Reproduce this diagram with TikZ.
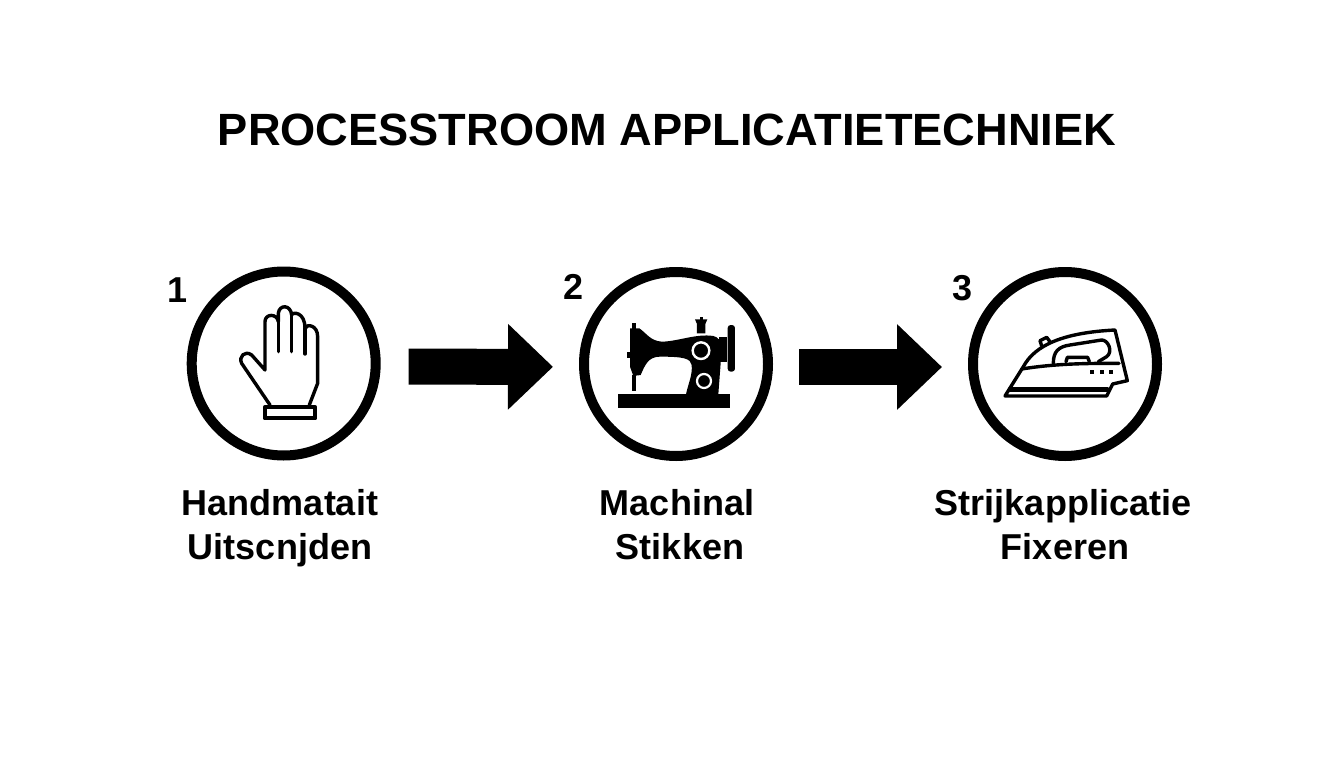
\documentclass[tikz,border=0pt]{standalone}
\usepackage{fontspec}
\setmainfont{Liberation Sans}
\usetikzlibrary{arrows.meta}
\tikzset{
  ring/.style={circle,draw=black,line width=10pt,minimum size=184pt,inner sep=0pt,fill=white},
  titletext/.style={font=\fontsize{45.2}{50}\selectfont\bfseries,inner sep=0pt},
  labeltext/.style={font=\fontsize{36}{44}\selectfont\bfseries,align=center,inner sep=0pt},
  numtext/.style={font=\fontsize{36}{38}\selectfont\bfseries,inner sep=0pt},
  flow/.style={line width=36pt,-{Triangle[length=45pt,width=83pt]},draw=black},
  icon/.style={line width=3.4pt,line join=round,line cap=round,draw=black},
  solidicon/.style={fill=black,draw=none},
}
\begin{document}
\begin{tikzpicture}[x=1pt,y=-1pt]
\useasboundingbox (0,0) rectangle (1344,768);
\fill[white] (0,0) rectangle (1344,768);
\node[titletext] (title) at (667,130) {PROCESSTROOM APPLICATIETECHNIEK};
\node[ring] (c1) at (283.7,363.5) {};
\node[ring] (c2) at (676,364) {};
\node[ring] (c3) at (1065,364) {};
\draw[flow,shorten <=28pt,shorten >=26pt,transform canvas={yshift=-3pt}] (c1) -- (c2);
\draw[flow,shorten <=26pt,shorten >=26pt,transform canvas={yshift=-3pt}] (c2) -- (c3);
\node[numtext] (n1) at (178,290) {1};
\node[numtext] (n2) at (574,287) {2};
\node[numtext] (n3) at (962,288) {3};
\node[labeltext] (l1) at (280,528) {Handmatait\\Uitscnjden};
\node[labeltext] (l2) at (677,525) {Machinal\\\hspace*{6pt}Stikken};
\node[labeltext] (l3) at (1063,525) {Strijkapplicatie\\\hspace*{4pt}Fixeren};
% hand
\begin{scope}[shift={(170,260)},x=0.3333pt,y=-0.3333pt]
\draw[icon] (300,435) -- (215,310) .. controls (205,290) and (225,270) .. (245,285) -- (285,330) -- (285,185) .. controls (285,160) and (322,160) .. (325,185) -- (325,160) .. controls (328,133) and (362,133) .. (365,165) .. controls (368,155) and (405,155) .. (405,205) .. controls (410,190) and (443,195) .. (443,230) -- (443,370) -- (418,435);
\draw[icon] (325,185) -- (325,275) (365,165) -- (365,275) (405,205) -- (405,282);
\draw[icon,line width=4pt] (284,442) rectangle (436,475);
\end{scope}
% sewing machine
\begin{scope}[shift={(600,300)},x=0.3333pt,y=-0.3333pt]
\fill[solidicon] (53,283) rectangle (390,323);
\fill[solidicon] (90,85) -- (118,85) .. controls (140,100) and (150,122) .. (185,125) .. controls (230,125) and (290,100) .. (340,108) .. controls (355,112) and (362,120) .. (362,140) -- (362,190) -- (355,283) -- (258,283) .. controls (265,250) and (278,225) .. (275,195) .. controls (272,175) and (250,170) .. (180,170) .. controls (145,170) and (135,195) .. (122,225) -- (100,228) -- (90,200) -- cycle;
\fill[solidicon] (97,225) rectangle (107,272);
\fill[solidicon] (97,68) rectangle (107,90);
\fill[solidicon] (80,155) rectangle (94,175);
\fill[solidicon] (291,100) -- (291,72) -- (285,58) -- (322,58) -- (316,72) -- (316,100) -- cycle;
\fill[solidicon] (300,50) rectangle (308,60);
\fill[solidicon] (358,110) rectangle (380,185);
\fill[solidicon,rounded corners=3pt] (383,75) rectangle (405,215);
\draw[white,line width=2.4pt] (303,152) circle (25);
\draw[white,line width=2.2pt] (312,243) circle (21);
\end{scope}
% iron
\begin{scope}[shift={(990,310)},x=0.3333pt,y=-0.3333pt]
\draw[icon] (45,258) -- (100,170) .. controls (135,105) and (220,68) .. (375,60) -- (412,212) -- (368,222) -- (350,258) -- cycle;
\draw[icon] (95,177) .. controls (200,160) and (300,160) .. (387,160);
\draw[icon,line width=4.5pt] (60,238) -- (352,238);
\draw[icon] (190,160) .. controls (190,125) and (205,110) .. (240,105) -- (335,90) .. controls (355,90) and (370,125) .. (350,140) -- (325,155);
\draw[icon] (228,155) -- (232,142) -- (293,142) -- (298,155);
\draw[icon] (155,108) -- (150,92) -- (170,82) -- (180,95);
\fill[solidicon] (301,180) rectangle (313,192);
\fill[solidicon] (329,180) rectangle (341,192);
\fill[solidicon] (356,180) rectangle (368,192);
\end{scope}
\end{tikzpicture}
\end{document}
